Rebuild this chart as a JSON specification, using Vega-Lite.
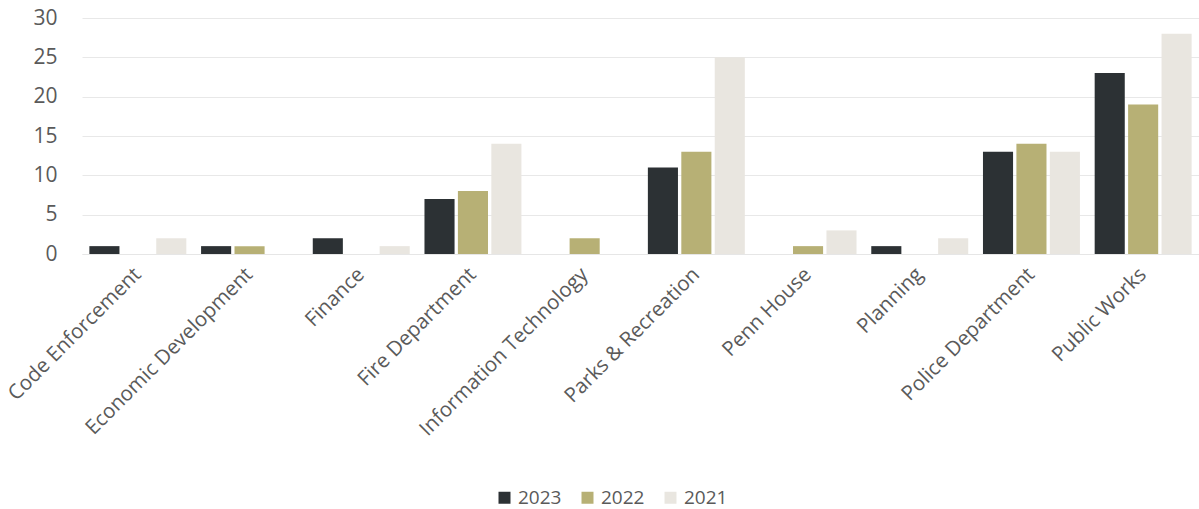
{
  "$schema": "https://vega.github.io/schema/vega-lite/v6.json",
  "width": 1117,
  "height": 236,
  "autosize": {"type": "none"},
  "padding": {"left": 82, "top": 18, "right": 0, "bottom": 255},
  "background": "#ffffff",
  "config": {"view": {"stroke": null}, "font": "Open Sans"},
  "data": {"values": [
    {"dept": "Code Enforcement", "year": "2023", "count": 1},
    {"dept": "Code Enforcement", "year": "2022", "count": 0},
    {"dept": "Code Enforcement", "year": "2021", "count": 2},
    {"dept": "Economic Development", "year": "2023", "count": 1},
    {"dept": "Economic Development", "year": "2022", "count": 1},
    {"dept": "Economic Development", "year": "2021", "count": 0},
    {"dept": "Finance", "year": "2023", "count": 2},
    {"dept": "Finance", "year": "2022", "count": 0},
    {"dept": "Finance", "year": "2021", "count": 1},
    {"dept": "Fire Department", "year": "2023", "count": 7},
    {"dept": "Fire Department", "year": "2022", "count": 8},
    {"dept": "Fire Department", "year": "2021", "count": 14},
    {"dept": "Information Technology", "year": "2023", "count": 0},
    {"dept": "Information Technology", "year": "2022", "count": 2},
    {"dept": "Information Technology", "year": "2021", "count": 0},
    {"dept": "Parks & Recreation", "year": "2023", "count": 11},
    {"dept": "Parks & Recreation", "year": "2022", "count": 13},
    {"dept": "Parks & Recreation", "year": "2021", "count": 25},
    {"dept": "Penn House", "year": "2023", "count": 0},
    {"dept": "Penn House", "year": "2022", "count": 1},
    {"dept": "Penn House", "year": "2021", "count": 3},
    {"dept": "Planning", "year": "2023", "count": 1},
    {"dept": "Planning", "year": "2022", "count": 0},
    {"dept": "Planning", "year": "2021", "count": 2},
    {"dept": "Police Department", "year": "2023", "count": 13},
    {"dept": "Police Department", "year": "2022", "count": 14},
    {"dept": "Police Department", "year": "2021", "count": 13},
    {"dept": "Public Works", "year": "2023", "count": 23},
    {"dept": "Public Works", "year": "2022", "count": 19},
    {"dept": "Public Works", "year": "2021", "count": 28}
  ]},
  "mark": {"type": "bar"},
  "encoding": {
    "x": {
      "field": "dept", "type": "nominal", "sort": null,
      "scale": {"paddingInner": 0.132, "paddingOuter": 0.066},
      "axis": {
        "title": null, "labelAngle": -45, "labelAlign": "right", "labelBaseline": "middle",
        "labelFontSize": 20.5, "labelFontWeight": 400, "labelColor": "#5a5a5a", "labelPadding": 17,
        "ticks": false, "domain": true, "domainColor": "#e6e6e6", "labelLimit": 400
      }
    },
    "xOffset": {
      "field": "year", "type": "nominal", "sort": ["2023", "2022", "2021"],
      "scale": {"paddingInner": 0.1, "paddingOuter": 0}
    },
    "y": {
      "field": "count", "type": "quantitative",
      "scale": {"domain": [0, 30]},
      "axis": {
        "title": null, "values": [0, 5, 10, 15, 20, 25, 30], "domain": false, "ticks": false,
        "labelFontSize": 21, "labelFontWeight": 400, "labelColor": "#5a5a5a", "labelPadding": 25,
        "gridColor": "#e8e8e8", "gridWidth": 1
      }
    },
    "color": {
      "field": "year", "type": "nominal", "sort": ["2023", "2022", "2021"],
      "scale": {"domain": ["2023", "2022", "2021"], "range": ["#2c3134", "#b7b075", "#e9e6e0"]},
      "legend": {
        "title": null, "orient": "none", "direction": "horizontal",
        "legendX": 413, "legendY": 470,
        "symbolType": "square", "symbolSize": 144, "symbolStrokeWidth": 0,
        "labelFontSize": 19, "labelFontWeight": 400, "labelColor": "#5a5a5a", "columnPadding": 16, "labelOffset": 4
      }
    }
  }
}
